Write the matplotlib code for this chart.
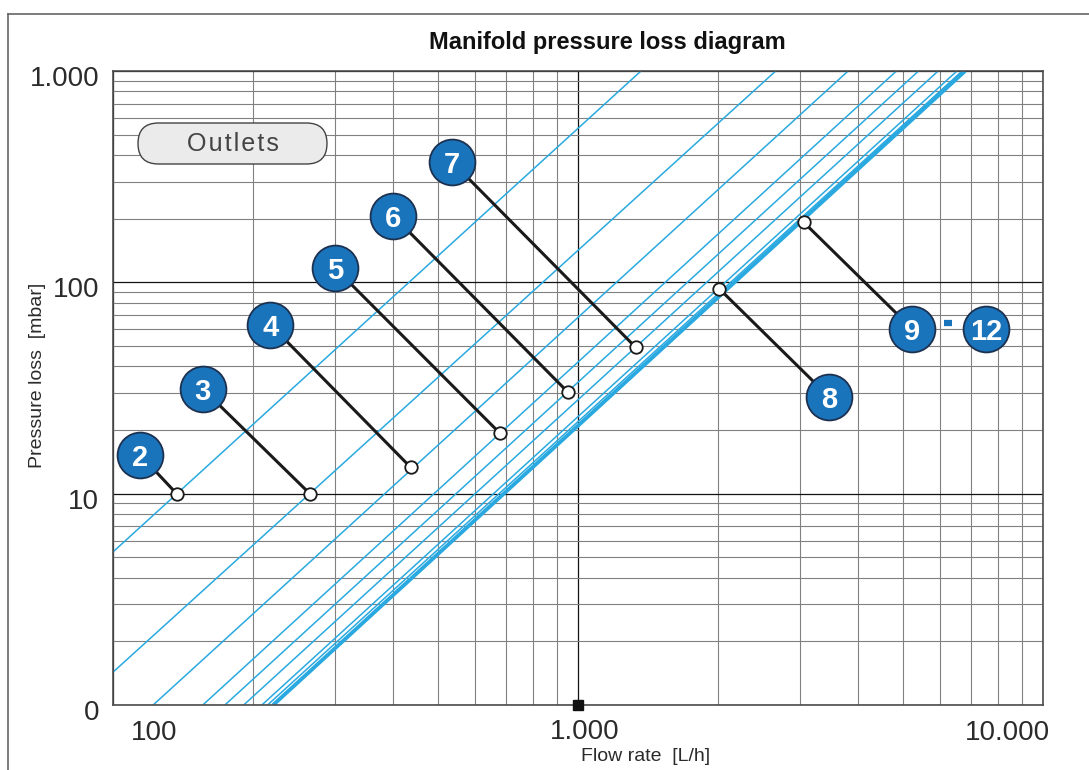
import matplotlib
matplotlib.use("Agg")
import matplotlib.pyplot as plt
from matplotlib.patches import FancyBboxPatch
from matplotlib.transforms import offset_copy
from matplotlib.lines import Line2D

plt.rcParams["font.family"] = ["Liberation Sans", "DejaVu Sans"]

# blue characteristic lines: (flow, pressure) where each one meets the frame
line_q_start = [100, 100, 122, 156, 174, 191, 209, 215, 221]
line_p_start = [5.3, 1.43, 1, 1, 1, 1, 1, 1, 1]
line_q_end = [1366, 2662, 3810, 4840, 5400, 5950, 6530, 6700, 6800]
line_p_end = [1000, 1000, 1000, 1000, 1000, 1000, 1000, 1000, 1000]
line_thick = [False, False, False, False, False, False, False, False, True]

# outlet operating points
outlet_labels = ["2", "3", "4", "5", "6", "7", "8", "9"]
point_q = [137, 265, 437, 678, 950, 1330, 2010, 3060]
point_p = [10, 10, 13.3, 19.4, 30.3, 49.3, 93.5, 192]
# badge centres (data coordinates)
badge_q = [114.3, 156, 218, 300, 400, 535, 3467, 5230]
badge_p = [15.3, 31.3, 63, 117, 207, 373, 28.7, 60.3]
extra_badge = ("12", 7540, 60.3)

xtick_vals = [100, 1000, 10000]
xtick_text = ["100", "1.000", "10.000"]
ytick_vals = [1000, 100, 10, 1]
ytick_text = ["1.000", "100", "10", "0"]

blue = "#2aa9e0"
badge_blue = "#1a74bb"

fig = plt.figure(figsize=(10.89, 7.70), dpi=100)
ax = fig.add_axes([113 / 1089, 65 / 770, 930 / 1089, 634 / 770])
ax.set_xscale("log")
ax.set_yscale("log")
ax.set_xlim(100, 10000)
ax.set_ylim(1, 1000)

ax.grid(which="major", color="#111111", lw=0.9)
ax.grid(which="minor", color="#808080", lw=0.8)
ax.set_axisbelow(True)
ax.tick_params(which="both", length=0, labelbottom=False, labelleft=False)
for s in ax.spines.values():
    s.set_color("#4d4d4d")
    s.set_linewidth(1.2)

for i in range(len(line_q_start)):
    ax.plot([line_q_start[i], line_q_end[i]], [line_p_start[i], line_p_end[i]],
            color=blue, lw=2.8 if line_thick[i] else 1.1, zorder=2,
            solid_capstyle="butt")

# leader lines, points and badges
for i in range(len(outlet_labels)):
    ax.plot([badge_q[i], point_q[i]], [badge_p[i], point_p[i]],
            color="#1a1a1a", lw=2.2, zorder=3)
    ax.plot(point_q[i], point_p[i], "o", ms=9, mfc="white", mec="#1a1a1a",
            mew=1.3, zorder=4)
    ax.plot(badge_q[i], badge_p[i], "o", ms=33, mfc=badge_blue,
            mec="#1c3150", mew=1.3, zorder=5, clip_on=False)
    ax.text(badge_q[i], badge_p[i], outlet_labels[i], color="white",
            fontsize=21, fontweight="bold", ha="center", va="center_baseline",
            zorder=6)

lab, bq, bp = extra_badge
ax.plot(bq, bp, "o", ms=33, mfc=badge_blue, mec="#1c3150", mew=1.3,
        zorder=5, clip_on=False)
ax.text(bq, bp, lab, color="white", fontsize=21, fontweight="bold",
        ha="center", va="center_baseline", zorder=6)
# dash between 9 and 12
ax.plot((badge_q[-1] * bq) ** 0.5, bp, marker="_", ms=6, mew=4.5,
        color=badge_blue, zorder=6,
        transform=offset_copy(ax.transData, fig, x=-1, y=6, units="dots"))

# black square on the 1000 line
ax.plot(1000, 1, "s", ms=7.5, color="#111111", zorder=7, clip_on=False)

# tick labels
tick_kw = dict(fontsize=20, color="#2b2b2b", va="baseline")
ax.text(xtick_vals[0], 1, xtick_text[0], ha="left",
        transform=offset_copy(ax.transData, fig, x=18, y=-35, units="dots"), **tick_kw)
ax.text(xtick_vals[1], 1, xtick_text[1], ha="center",
        transform=offset_copy(ax.transData, fig, x=7, y=-34, units="dots"), **tick_kw)
ax.text(xtick_vals[2], 1, xtick_text[2], ha="right",
        transform=offset_copy(ax.transData, fig, x=7, y=-35, units="dots"), **tick_kw)
for v, t in zip(ytick_vals, ytick_text):
    ax.text(100, v, t, ha="right",
            transform=offset_copy(ax.transData, fig, x=-14, y=-15, units="dots"), **tick_kw)

# outlets pill
pill = FancyBboxPatch((1.38, (770 - 164) / 100), 1.89, 0.41,
                      boxstyle="round,pad=0,rounding_size=0.205",
                      transform=fig.dpi_scale_trans, facecolor="#ebebeb",
                      edgecolor="#444444", lw=1.0, zorder=10)
fig.patches.append(pill)
fig.text(232.5 / 1089, 1 - 144 / 770, "O u t l e t s".replace(" ", "\u200a"),
         fontsize=18, color="#444444", ha="center", va="center", zorder=11)

fig.text(607 / 1089, 1 - 49 / 770, "Manifold pressure loss diagram",
         fontsize=17, fontweight="bold", color="#111111", ha="center", va="baseline")
fig.text(645.5 / 1089, 1 - 761 / 770, "Flow rate  [L/h]", fontsize=14,
         color="#2b2b2b", ha="center", va="baseline")
fig.text(37.5 / 1089, 1 - 375 / 770, "Pressure loss  [mbar]", fontsize=14,
         color="#2b2b2b", ha="center", va="center", rotation=90)

# outer frame (top and left edges)
fig.add_artist(Line2D([8 / 1089, 1], [1 - 14 / 770, 1 - 14 / 770],
                      color="#666666", lw=1.2, transform=fig.transFigure))
fig.add_artist(Line2D([8 / 1089, 8 / 1089], [0, 1 - 14 / 770],
                      color="#666666", lw=1.2, transform=fig.transFigure))

fig.savefig("out.png", dpi=100)
